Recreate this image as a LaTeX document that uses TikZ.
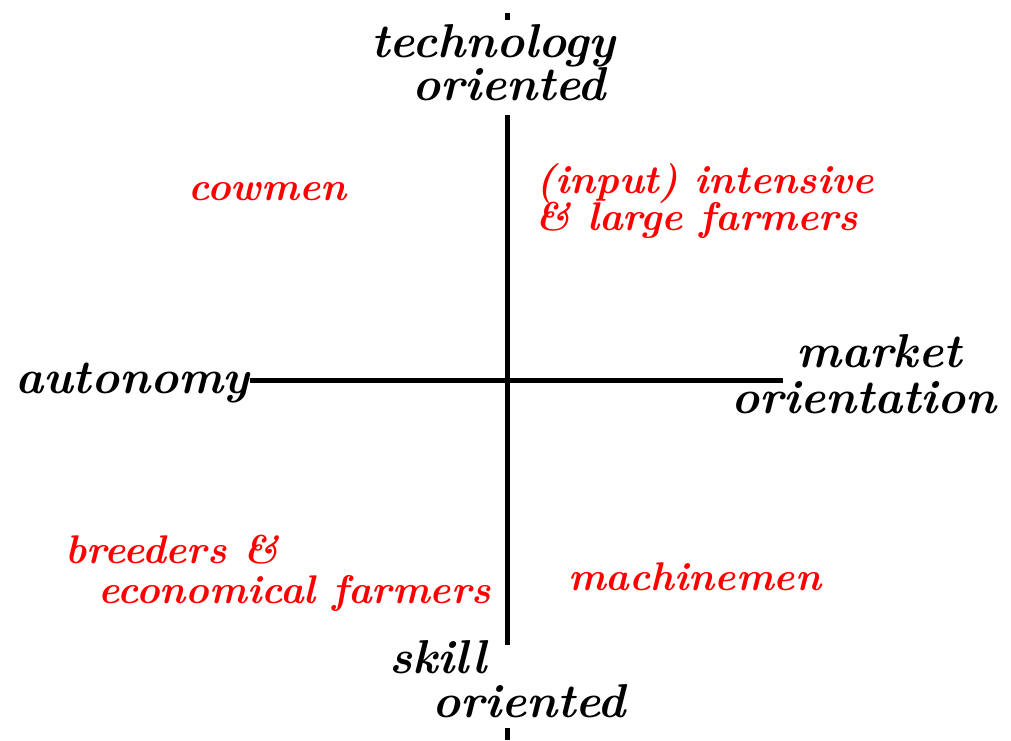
\documentclass[tikz,border=0pt]{standalone}
\usepackage{fontspec}
\begin{document}
\begin{tikzpicture}[x=1pt,y=-1pt,
  axis/.style={line width=5pt},
  axislabel/.style={anchor=base west,inner sep=0pt,font=\fontsize{47.5}{52}\selectfont\bfseries\itshape,text=black},
  group/.style={anchor=base west,inner sep=0pt,font=\fontsize{40}{46}\selectfont\bfseries\itshape,text=red}]
  \useasboundingbox (0,0) rectangle (1011,740);
  % axis ends and gaps around the vertical labels
  \coordinate (vtop) at (507.5,13);
  \coordinate (vtopgap) at (507.5,20);
  \coordinate (vup) at (507.5,115);
  \coordinate (vdown) at (507.5,645);
  \coordinate (vbotgap) at (507.5,728);
  \coordinate (vbot) at (507.5,740);
  \coordinate (hright) at (783,380);

  % axis labels
  \node[axislabel] (tech) at (371,57) {technology};
  \node[axislabel] (techb) at (412,100) {oriented};
  \node[axislabel] (skill) at (389,673) {skill};
  \node[axislabel] (skillb) at (432,717) {oriented};
  \node[axislabel] (auto) at (15,393) {autonomy};
  \node[axislabel] (market) at (796,367) {market};
  \node[axislabel] (marketb) at (731,413) {orientation};

  % axes
  \draw[axis] (vtop) -- (vtopgap);
  \draw[axis] (vup) -- (vdown);
  \draw[axis] (vbotgap) -- (vbot);
  \draw[axis] (250,380) coordinate (hleft) -- (hright);

  % farmer groups
  \node[group] (cow) at (188,200) {cowmen};
  \node[group] (inten) at (536,193) {(input) intensive};
  \node[group] (intenb) at (535,230) {\& large farmers};
  \node[group] (breed) at (65,563) {breeders \&};
  \node[group] (breedb) at (98,603) {economical farmers};
  \node[group] (mach) at (568,590) {machinemen};
\end{tikzpicture}
\end{document}
